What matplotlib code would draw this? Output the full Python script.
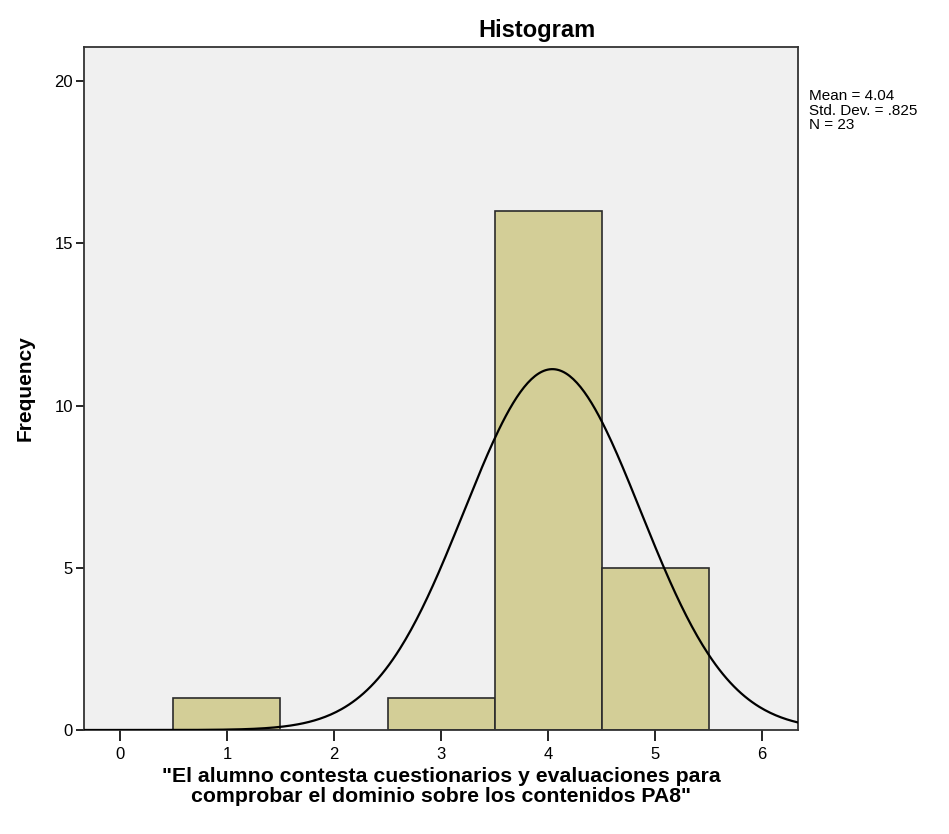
import numpy as np
import matplotlib
matplotlib.use('Agg')
import matplotlib.pyplot as plt

plt.rcParams['font.family'] = ['Liberation Sans', 'DejaVu Sans']

# histogram data
values = [1, 3, 4, 5]
counts = [1, 1, 16, 5]
mean, sd, n = 4.04, 0.825, 23

fig = plt.figure(figsize=(9.49, 8.34), dpi=100)
ax = fig.add_axes([0.0885, 0.1247, 0.7525, 0.8189])
ax.set_facecolor('#F0F0F0')

ax.bar(values, counts, width=1.0, color='#D3CE97', edgecolor='#2b2b2b', linewidth=1.2, zorder=2)

# normal curve scaled to counts
xs = np.linspace(-0.4, 6.4, 400)
ys = n * 1.0 / (sd * np.sqrt(2 * np.pi)) * np.exp(-0.5 * ((xs - mean) / sd) ** 2)
ax.plot(xs, ys, color='black', linewidth=1.6, zorder=3)

ax.set_xlim(-0.336, 6.336)
ax.set_ylim(0, 21.05)
ax.set_xticks(range(0, 7))
ax.set_yticks([0, 5, 10, 15, 20])
ax.tick_params(axis='x', direction='out', length=8, width=1.2, labelsize=12, pad=4)
ax.tick_params(axis='y', direction='out', length=6, width=1.2, labelsize=12, pad=2)
for s in ax.spines.values():
    s.set_linewidth(1.3)
    s.set_color('#333333')

# SPSS puts the title off centre, to the right
ax.text(0.634, 1.008, 'Histogram', transform=ax.transAxes, fontsize=17,
        fontweight='bold', ha='center', va='bottom')
ax.set_ylabel('Frequency', fontsize=15, fontweight='bold', labelpad=14)
ax.set_xlabel('"El alumno contesta cuestionarios y evaluaciones para\ncomprobar el dominio sobre los contenidos PA8"',
              fontsize=15.3, fontweight='bold', labelpad=4, linespacing=1.05)

fig.text(0.853, 0.893, 'Mean = 4.04\nStd. Dev. = .825\nN = 23', fontsize=11,
         va='top', ha='left', linespacing=1.05)

fig.savefig('out.png', dpi=100, facecolor='white')
